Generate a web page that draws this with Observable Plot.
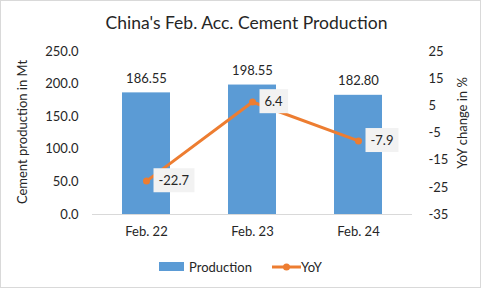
<!DOCTYPE html>
<html><head><meta charset="utf-8">
<script src="https://cdn.jsdelivr.net/npm/d3@7"></script>
<script src="https://cdn.jsdelivr.net/npm/@observablehq/plot@0.6"></script>
<style>
body{margin:0;background:#fff;}
#wrap{position:relative;width:481px;height:288px;box-shadow:inset 0 0 0 1px #d9d9d9;font-family:Lato,sans-serif;color:#262626;background:#fff;overflow:hidden}
#title{position:absolute;left:6px;width:481px;top:11px;text-align:center;font-size:17.5px;line-height:24px;}
#chart{position:absolute;left:0;top:40px}
#legend{position:absolute;top:258px;left:0;width:481px;height:18px;font-size:13px;line-height:18px;}
.sw{position:absolute;}
.ytitle{position:absolute;font-size:13px;line-height:16px;white-space:nowrap;transform:translate(-50%,-50%) rotate(-90deg);}
</style></head>
<body>
<div id="wrap">
  <div id="title">China's Feb. Acc. Cement Production</div>
  <div id="chart"></div>
  <div class="ytitle" style="left:22px;top:132px">Cement production in Mt</div>
  <div class="ytitle" style="left:462px;top:123px">YoY change in %</div>
  <div id="legend">
    <div class="sw" style="left:159px;top:4px;width:25px;height:9px;background:#5B9BD5"></div>
    <div class="sw" style="left:189px;top:0">Production</div>
    <svg class="sw" style="left:272px;top:0" width="29" height="18"><line x1="0" x2="29" y1="9" y2="9" stroke="#ED7D31" stroke-width="3"/><circle cx="14.5" cy="9" r="3.5" fill="#ED7D31"/></svg>
    <div class="sw" style="left:301px;top:0">YoY</div>
  </div>
</div>
<script>
const categories = ["Feb. 22", "Feb. 23", "Feb. 24"];
const production = [186.55, 198.55, 182.80];
const yoy = [-22.7, 6.4, -7.9];
const leftTicks = [0, 50, 100, 150, 200, 250];
const rightTicks = [-35, -25, -15, -5, 5, 15, 25];

const leftMax = 250, rMin = -35, rMax = 25;
const toLeft = v => (v - rMin) * leftMax / (rMax - rMin);
const fromLeft = v => Math.round(v * (rMax - rMin) / leftMax + rMin);

const data = categories.map((c, i) => ({cat: c, prod: production[i], yoy: yoy[i]}));

const chart = Plot.plot({
  width: 481, height: 210,
  marginLeft: 92, marginRight: 69, marginTop: 11, marginBottom: 36,
  style: {fontFamily: "Lato, sans-serif", fontSize: "13px", color: "#262626", background: "transparent", overflow: "visible"},
  x: {domain: categories, paddingInner: 0.55, paddingOuter: 0.275, label: null},
  y: {domain: [0, leftMax], label: null},
  marks: [
    Plot.barY(data, {x: "cat", y: "prod", fill: "#5B9BD5"}),
    Plot.ruleY([0], {stroke: "#d9d9d9"}),
    Plot.axisX({tickSize: 0, tickPadding: 12, label: null}),
    Plot.axisY(leftTicks, {anchor: "left", tickSize: 0, tickPadding: 14, tickFormat: d => d.toFixed(1), label: null}),
    Plot.axisY(rightTicks.map(toLeft), {anchor: "right", tickSize: 0, tickPadding: 16, tickFormat: d => String(fromLeft(d)), textAnchor: "start", label: null}),
    Plot.text(data, {x: "cat", y: "prod", text: d => d.prod.toFixed(2), dy: -14, fill: "#262626"}),
    Plot.line(data, {x: "cat", y: d => toLeft(d.yoy), stroke: "#ED7D31", strokeWidth: 3}),
    Plot.dot(data, {x: "cat", y: d => toLeft(d.yoy), r: 3.5, fill: "#ED7D31"}),
    Plot.text(data, {x: "cat", y: d => toLeft(d.yoy), text: d => d.yoy.toFixed(1), dx: 12, textAnchor: "start", fill: "#262626"})
  ]
});
document.getElementById("chart").appendChild(chart);

// background boxes behind the YoY data labels
const groups = chart.querySelectorAll('g[aria-label="text"]');
const g = groups[groups.length - 1];
g.querySelectorAll("text").forEach(t => {
  const b = t.getBBox();
  const r = document.createElementNS("http://www.w3.org/2000/svg", "rect");
  r.setAttribute("x", b.x - 5);
  r.setAttribute("y", b.y - 4);
  r.setAttribute("width", b.width + 10);
  r.setAttribute("height", b.height + 8);
  r.setAttribute("fill", "#f2f2f2");
  if (t.getAttribute("transform")) r.setAttribute("transform", t.getAttribute("transform"));
  t.parentNode.insertBefore(r, t);
});
</script>
</body></html>
